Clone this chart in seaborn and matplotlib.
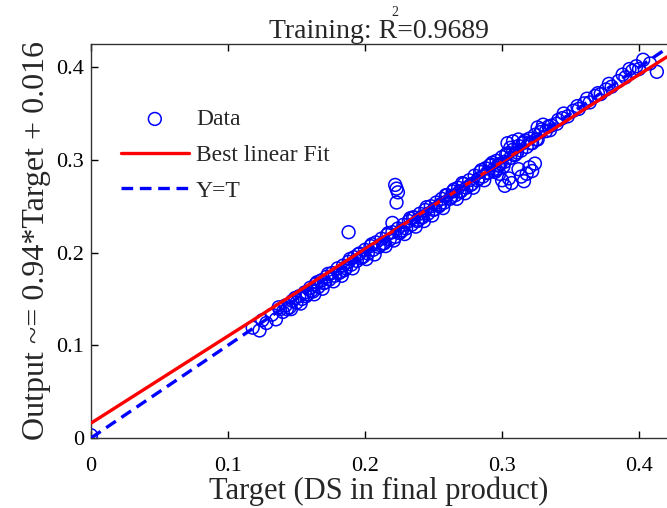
import matplotlib
matplotlib.use("Agg")
import matplotlib.pyplot as plt
import seaborn as sns
import numpy as np
import pandas as pd

# ---- data ----
target = [
    0.000,
    0.118, 0.123, 0.125, 0.128, 0.132, 0.135, 0.138, 0.140, 0.142, 0.145,
    0.147, 0.150, 0.152, 0.154, 0.156, 0.158, 0.160, 0.162, 0.164, 0.166,
    0.168, 0.170, 0.172, 0.174, 0.176, 0.178, 0.180, 0.182, 0.184, 0.186,
    0.188, 0.190, 0.192, 0.194, 0.196, 0.198, 0.200, 0.202, 0.204, 0.206,
    0.208, 0.210, 0.212, 0.214, 0.216, 0.218, 0.220, 0.222, 0.224, 0.226,
    0.228, 0.230, 0.232, 0.234, 0.236, 0.238, 0.240, 0.242, 0.244, 0.246,
    0.248, 0.250, 0.252, 0.254, 0.256, 0.258, 0.260, 0.262, 0.264, 0.266,
    0.268, 0.270, 0.272, 0.274, 0.276, 0.278, 0.280, 0.282, 0.284, 0.286,
    0.288, 0.290, 0.292, 0.294, 0.296, 0.298, 0.300, 0.302, 0.304, 0.306,
    0.308, 0.310, 0.312, 0.314, 0.316, 0.318, 0.320, 0.322, 0.324, 0.326,
    0.328, 0.332, 0.336, 0.340, 0.344, 0.348, 0.352, 0.356, 0.360, 0.364,
    0.368, 0.372, 0.376, 0.380, 0.385, 0.390, 0.395, 0.400,
    # second layer thickening the band
    0.143, 0.157, 0.171, 0.185, 0.199, 0.213, 0.227, 0.241, 0.255, 0.269,
    0.283, 0.297, 0.311, 0.325, 0.165, 0.195, 0.235, 0.265, 0.291, 0.315,
    # third layer
    0.137, 0.149, 0.161, 0.173, 0.181, 0.189, 0.197, 0.205, 0.211, 0.217,
    0.225, 0.233, 0.239, 0.245, 0.251, 0.259, 0.263, 0.271, 0.277, 0.285,
    0.289, 0.293, 0.299, 0.303, 0.309, 0.317, 0.321, 0.329, 0.335, 0.341,
    # fourth layer (lower edge of the band)
    0.146, 0.153, 0.163, 0.169, 0.177, 0.183, 0.191, 0.201, 0.207, 0.215,
    0.221, 0.229, 0.237, 0.243, 0.249, 0.257, 0.267, 0.273, 0.279, 0.287,
    0.295, 0.301,
    # outliers
    0.188, 0.222, 0.223, 0.224, 0.223, 0.220,
    0.296, 0.298, 0.300, 0.302, 0.305, 0.307, 0.312, 0.314, 0.316, 0.318,
    0.320, 0.322, 0.324,
    0.304, 0.308, 0.312, 0.306, 0.326, 0.330, 0.334,
    0.345, 0.355, 0.362, 0.370, 0.378, 0.388, 0.393, 0.398, 0.403, 0.408,
    0.413,
]
output = [
    0.003,
    0.119, 0.116, 0.127, 0.124, 0.133, 0.128, 0.139, 0.136, 0.143, 0.141,
    0.148, 0.146, 0.153, 0.150, 0.157, 0.155, 0.162, 0.158, 0.166, 0.163,
    0.170, 0.167, 0.174, 0.171, 0.178, 0.175, 0.183, 0.179, 0.186, 0.183,
    0.190, 0.187, 0.195, 0.191, 0.199, 0.195, 0.203, 0.199, 0.207, 0.203,
    0.211, 0.206, 0.215, 0.210, 0.219, 0.214, 0.222, 0.217, 0.226, 0.222,
    0.230, 0.226, 0.234, 0.230, 0.238, 0.234, 0.242, 0.238, 0.246, 0.242,
    0.250, 0.246, 0.254, 0.250, 0.258, 0.254, 0.262, 0.258, 0.266, 0.262,
    0.270, 0.266, 0.274, 0.270, 0.278, 0.274, 0.283, 0.278, 0.287, 0.282,
    0.291, 0.286, 0.295, 0.290, 0.299, 0.294, 0.303, 0.298, 0.307, 0.302,
    0.311, 0.306, 0.315, 0.310, 0.319, 0.314, 0.323, 0.318, 0.327, 0.322,
    0.330, 0.331, 0.337, 0.339, 0.345, 0.347, 0.353, 0.355, 0.361, 0.362,
    0.369, 0.371, 0.376, 0.379, 0.385, 0.389, 0.396, 0.398,
    0.139, 0.153, 0.168, 0.181, 0.196, 0.210, 0.224, 0.238, 0.252, 0.266,
    0.280, 0.294, 0.308, 0.322, 0.168, 0.198, 0.238, 0.268, 0.294, 0.318,
    0.141, 0.151, 0.159, 0.177, 0.178, 0.193, 0.194, 0.209, 0.208, 0.221,
    0.221, 0.237, 0.235, 0.249, 0.247, 0.262, 0.260, 0.275, 0.273, 0.289,
    0.286, 0.297, 0.296, 0.306, 0.305, 0.321, 0.318, 0.333, 0.332, 0.343,
    0.139, 0.145, 0.155, 0.161, 0.169, 0.175, 0.183, 0.193, 0.198, 0.207,
    0.213, 0.220, 0.228, 0.234, 0.240, 0.248, 0.258, 0.264, 0.270, 0.278,
    0.287, 0.293,
    0.222, 0.273, 0.269, 0.265, 0.254, 0.232,
    0.289, 0.285, 0.278, 0.272, 0.280, 0.275, 0.290, 0.282, 0.277, 0.285,
    0.292, 0.288, 0.296,
    0.318, 0.320, 0.322, 0.313, 0.335, 0.338, 0.336,
    0.350, 0.358, 0.366, 0.372, 0.382, 0.392, 0.398, 0.401, 0.408, 0.404,
    0.395,
]
fit_slope = 0.94
fit_intercept = 0.016
r_value = "0.9689"
x_ticks = [0, 0.1, 0.2, 0.3, 0.4]
y_ticks = [0, 0.1, 0.2, 0.3, 0.4]
x_ticklabels = ["0", "0.1", "0.2", "0.3", "0.4"]
y_ticklabels = ["0", "0.1", "0.2", "0.3", "0.4"]

# ---- plot ----
sns.set_theme(style="white")
plt.rcParams["font.family"] = ["Liberation Serif", "DejaVu Serif"]

fig = plt.figure(figsize=(6.67, 5.08), dpi=100)
ax = fig.add_axes([91 / 667, 70 / 508, 576 / 667, 394 / 508])

xmin, xmax = 0.0, 0.4204
ymin, ymax = 0.0, 0.425

df = pd.DataFrame({"Target": target, "Output": output})
sns.scatterplot(data=df, x="Target", y="Output", ax=ax, marker="o", s=85,
                facecolors="none", edgecolor="#0000ff", linewidth=1.1,
                label="Data", zorder=2)

line_x = np.array([xmin, xmax])
fit_df = pd.DataFrame({"x": line_x, "y": fit_slope * line_x + fit_intercept})
id_df = pd.DataFrame({"x": line_x, "y": line_x})
sns.lineplot(data=fit_df, x="x", y="y", ax=ax, color="#ff0000", linewidth=2.4,
             label="Best linear Fit", zorder=3)
sns.lineplot(data=id_df, x="x", y="y", ax=ax, color="#0000ff", linewidth=2.4,
             linestyle=(0, (3.5, 2)), label="Y=T", zorder=4)

ax.set_xlim(xmin, xmax)
ax.set_ylim(ymin, ymax)
ax.set_xticks(x_ticks)
ax.set_xticklabels(x_ticklabels)
ax.set_yticks(y_ticks)
ax.set_yticklabels(y_ticklabels)
ax.tick_params(axis="both", direction="in", length=5, width=1, labelsize=16,
               colors="black", top=True, bottom=True, left=True, right=False)
ax.tick_params(axis="x", pad=14)
ax.tick_params(axis="y", pad=5)
for side in ["left", "top", "bottom"]:
    ax.spines[side].set_color("#333333")
    ax.spines[side].set_linewidth(1.0)
ax.spines["right"].set_visible(False)

ax.set_xlabel("Target (DS in final product)", fontsize=22, labelpad=0)
ax.set_ylabel("Output ~= 0.94*Target + 0.016", fontsize=23, labelpad=4)

ax.set_title("Training: R=" + r_value, fontsize=20, pad=4)
fig.text(395 / 667, 1 - 13 / 508, "2", fontsize=10, ha="center", va="center")

leg = ax.legend(loc="upper left", bbox_to_anchor=(0.035, 0.86), frameon=False,
                fontsize=17, handlelength=2.9, handletextpad=0.3,
                labelspacing=0.6, borderaxespad=0)

fig.savefig("out.png", dpi=100)
